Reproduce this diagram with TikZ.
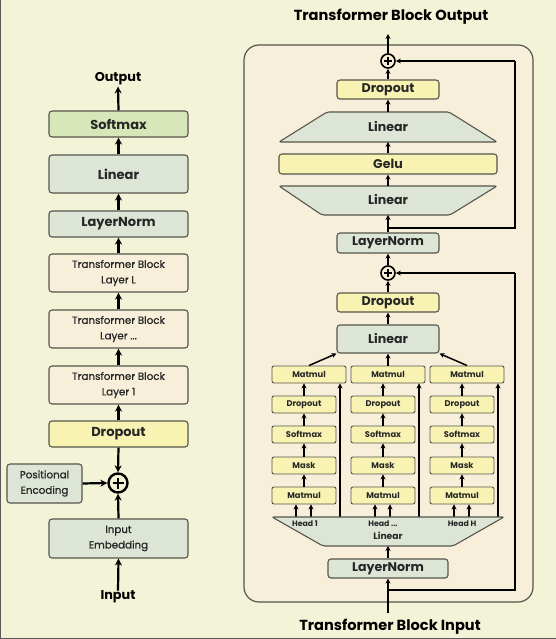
\documentclass[tikz,border=0pt]{standalone}
\usepackage{fontspec}
\setmainfont{Poppins}
\newfontfamily\pmed{Poppins}[FakeBold=0.9]
\usetikzlibrary{arrows.meta}
\definecolor{bgc}{HTML}{F3F3D7}
\definecolor{panelc}{HTML}{F8EFDB}
\definecolor{grnc}{HTML}{DCE5D6}
\definecolor{ylwc}{HTML}{F8F3B2}
\definecolor{smxc}{HTML}{D8E7BA}
\definecolor{crmc}{HTML}{F8EFDA}
\definecolor{bordc}{HTML}{55554B}
\tikzset{
  bx/.style={draw=bordc, line width=1.1pt, rounded corners=3pt, inner sep=0pt, align=center, text=black!85},
  bigbx/.style={bx, font=\bfseries\fontsize{13}{14}\selectfont},
  rbx/.style={bx, font=\bfseries\fontsize{12.6}{13}\selectfont},
  midbx/.style={bx, font=\pmed\fontsize{10.3}{15.5}\selectfont},
  hbx/.style={bx, rounded corners=2pt, line width=0.9pt, fill=ylwc, font=\bfseries\fontsize{8.3}{9}\selectfont, minimum height=17pt},
  lab/.style={font=\bfseries\fontsize{12.8}{14}\selectfont, inner sep=0pt},
  ttl/.style={font=\bfseries\fontsize{14.6}{16}\selectfont, inner sep=0pt},
  addc/.style={draw=black, circle, line width=2.4pt, minimum size=19pt, inner sep=0pt},
  adds/.style={draw=black, circle, line width=1.6pt, minimum size=14pt, inner sep=0pt},
  la/.style={line width=2.2pt, -{Stealth[length=7pt,width=7pt]}},
  ra/.style={line width=1.5pt, -{Stealth[length=5pt,width=5pt]}},
  rl/.style={line width=1.5pt},
  trap/.style={draw=bordc, line width=1.1pt, fill=grnc, rounded corners=2pt},
  traplab/.style={font=\bfseries\fontsize{12.6}{13}\selectfont, text=black!85},
  hlab/.style={font=\bfseries\fontsize{7.8}{8}\selectfont, text=black!85, inner sep=0pt},
}
\begin{document}
\begin{tikzpicture}[x=1pt,y=-1pt]
\useasboundingbox (0,0) rectangle (556,639);
\fill[bgc] (0,0) rectangle (556,639);
\draw[gray!70!black, line width=1.2pt] (0.6,0) -- (0.6,638.4) -- (556,638.4);

% ---------------- left column ----------------
\node[lab] (out) at (118,79) {Output};
\node[bigbx, fill=smxc, minimum width=139pt, minimum height=26pt] (smx) at (118.5,124) {Softmax};
\node[bigbx, fill=grnc, minimum width=139pt, minimum height=38pt] (llin) at (118.5,174) {Linear};
\node[bigbx, fill=grnc, minimum width=139pt, minimum height=26pt] (lln) at (118.5,224) {LayerNorm};
\node[midbx, fill=crmc, minimum width=139pt, minimum height=38pt] (tbl) at (118.5,273) {Transformer Block\\Layer L};
\node[midbx, fill=crmc, minimum width=139pt, minimum height=38pt] (tbd) at (118.5,329) {Transformer Block\\Layer ...};
\node[midbx, fill=crmc, minimum width=139pt, minimum height=38pt] (tb1) at (118.5,385) {Transformer Block\\Layer 1};
\node[bigbx, fill=ylwc, minimum width=139pt, minimum height=26pt] (ldrop) at (118.5,434) {Dropout};
\node[addc] (ladd) at (118,483) {};
\draw[line width=2.4pt] ([yshift=5.5pt]ladd.center) -- ([yshift=-5.5pt]ladd.center)
  ([xshift=-5.5pt]ladd.center) -- ([xshift=5.5pt]ladd.center);
\node[midbx, fill=grnc, minimum width=75pt, minimum height=39pt] (pos) at (44.5,483.5) {Positional\\Encoding};
\node[midbx, fill=grnc, minimum width=139pt, minimum height=39pt] (emb) at (118.5,538.5) {Input\\Embedding};
\node[lab] (inp) at (118,597) {Input};

\draw[la] (inp.north) -- (emb.south);
\draw[la] (emb.north) -- (ladd.south);
\draw[la] (pos.east) -- (ladd.west);
\draw[la] (ldrop.south) -- (ladd.north);
\draw[la] (ldrop.north) -- (tb1.south);
\draw[la] (tb1.north) -- (tbd.south);
\draw[la] (tbd.north) -- (tbl.south);
\draw[la] (tbl.north) -- (lln.south);
\draw[la] (lln.north) -- (llin.south);
\draw[la] (llin.north) -- (smx.south);
\draw[la] (smx.north) -- ([yshift=-1pt]out.south);

% ---------------- right panel ----------------
\draw[draw=bordc, line width=1.2pt, fill=panelc, rounded corners=15pt] (244,45) rectangle (533,602);
\node[ttl] (tout) at (391,17) {Transformer Block Output};
\node[ttl] (tin) at (390,627) {Transformer Block Input};
\coordinate (outtip) at (388,34);
\coordinate (intail) at (388,613);

\node[adds] (add1) at (388,61) {};
\draw[line width=1.6pt] ([yshift=4pt]add1.center) -- ([yshift=-4pt]add1.center)
  ([xshift=-4pt]add1.center) -- ([xshift=4pt]add1.center);
\node[rbx, fill=ylwc, minimum width=102pt, minimum height=19pt] (rdrop1) at (388,89.5) {Dropout};
% upper linear (trapezoid)
\draw[trap] (279,142) -- (327,112) -- (449,112) -- (497,142) -- cycle;
\coordinate (ulinT) at (388,112);
\coordinate (ulinB) at (388,142);
\node[traplab] (ulin) at (388,127) {Linear};
\node[rbx, fill=ylwc, minimum width=218pt, minimum height=20pt] (gelu) at (388,164) {Gelu};
% lower linear (inverted trapezoid)
\draw[trap] (279,186) -- (497,186) -- (450,215) -- (322,215) -- cycle;
\coordinate (llinT) at (388,186);
\coordinate (llinB) at (388,215);
\node[traplab] (flin) at (388,200) {Linear};
\node[rbx, fill=grnc, minimum width=102pt, minimum height=20pt] (rln1) at (388,243) {LayerNorm};
\node[adds] (add2) at (388,273) {};
\draw[line width=1.6pt] ([yshift=4pt]add2.center) -- ([yshift=-4pt]add2.center)
  ([xshift=-4pt]add2.center) -- ([xshift=4pt]add2.center);
\node[rbx, fill=ylwc, minimum width=102pt, minimum height=19pt] (rdrop2) at (388,302.5) {Dropout};
\node[rbx, fill=grnc, minimum width=102pt, minimum height=28pt] (rlin2) at (388,339) {Linear};

% heads
\foreach \i/\c in {1/304,2/383,3/462}{
  \node[hbx, minimum width=74pt] (mmt\i) at (\c+5,374.5) {Matmul};
  \node[hbx, minimum width=64pt] (dr\i) at (\c,404.5) {Dropout};
  \node[hbx, minimum width=64pt] (sm\i) at (\c,434.5) {Softmax};
  \node[hbx, minimum width=64pt] (mk\i) at (\c,465.5) {Mask};
  \node[hbx, minimum width=64pt] (mm\i) at (\c,495.5) {Matmul};
  \coordinate (qa\i) at (\c-8,517);
  \coordinate (qb\i) at (\c+7,517);
  \coordinate (vv\i) at (\c+36,517);
  \draw[ra] (qa\i) -- (qa\i |- mm\i.south);
  \draw[ra] (qb\i) -- (qb\i |- mm\i.south);
  \draw[ra] (mm\i.north) -- (mk\i.south);
  \draw[ra] (mk\i.north) -- (sm\i.south);
  \draw[ra] (sm\i.north) -- (dr\i.south);
  \draw[ra] (dr\i.north) -- (dr\i.north |- mmt\i.south);
  \draw[ra] (vv\i) -- (vv\i |- mmt\i.south);
}
% bottom linear (inverted trapezoid with heads)
\draw[trap] (272,517) -- (504,517) -- (453,546) -- (323,546) -- cycle;
\coordinate (hlinB) at (388,546);
\node[hlab] (h1) at (305,523.5) {Head 1};
\node[hlab] (h2) at (383,523.5) {Head ...};
\node[hlab] (h3) at (462,523.5) {Head H};
\node[font=\bfseries\fontsize{9.2}{10}\selectfont, text=black!85, inner sep=0pt] (hlin) at (388,536) {Linear};
\node[rbx, fill=grnc, minimum width=120pt, minimum height=19pt] (rln0) at (388,568.5) {LayerNorm};

% right connectors
\draw[ra] (intail) -- (rln0.south);
\draw[rl] (388,590) -- (515,590) -- (515,273);
\draw[ra] (515,273) -- (add2.east);
\draw[ra] (rln0.north) -- (hlinB);
\draw[ra] (mmt1.north) -- (rlin2.south west);
\draw[ra] (mmt2.north) -- (mmt2.north |- rlin2.south);
\draw[ra] (mmt3.north) -- (rlin2.south east);
\draw[ra] (rlin2.north) -- (rdrop2.south);
\draw[ra] (rdrop2.north) -- (add2.south);
\draw[ra] (add2.north) -- (rln1.south);
\draw[ra] (rln1.north) -- (llinB);
\draw[rl] (388,228) -- (515,228) -- (515,61);
\draw[ra] (515,61) -- (add1.east);
\draw[ra] (llinT) -- (gelu.south);
\draw[ra] (gelu.north) -- (ulinB);
\draw[ra] (ulinT) -- (rdrop1.south);
\draw[ra] (rdrop1.north) -- (add1.south);
\draw[ra] (add1.north) -- (outtip);
\end{tikzpicture}
\end{document}
